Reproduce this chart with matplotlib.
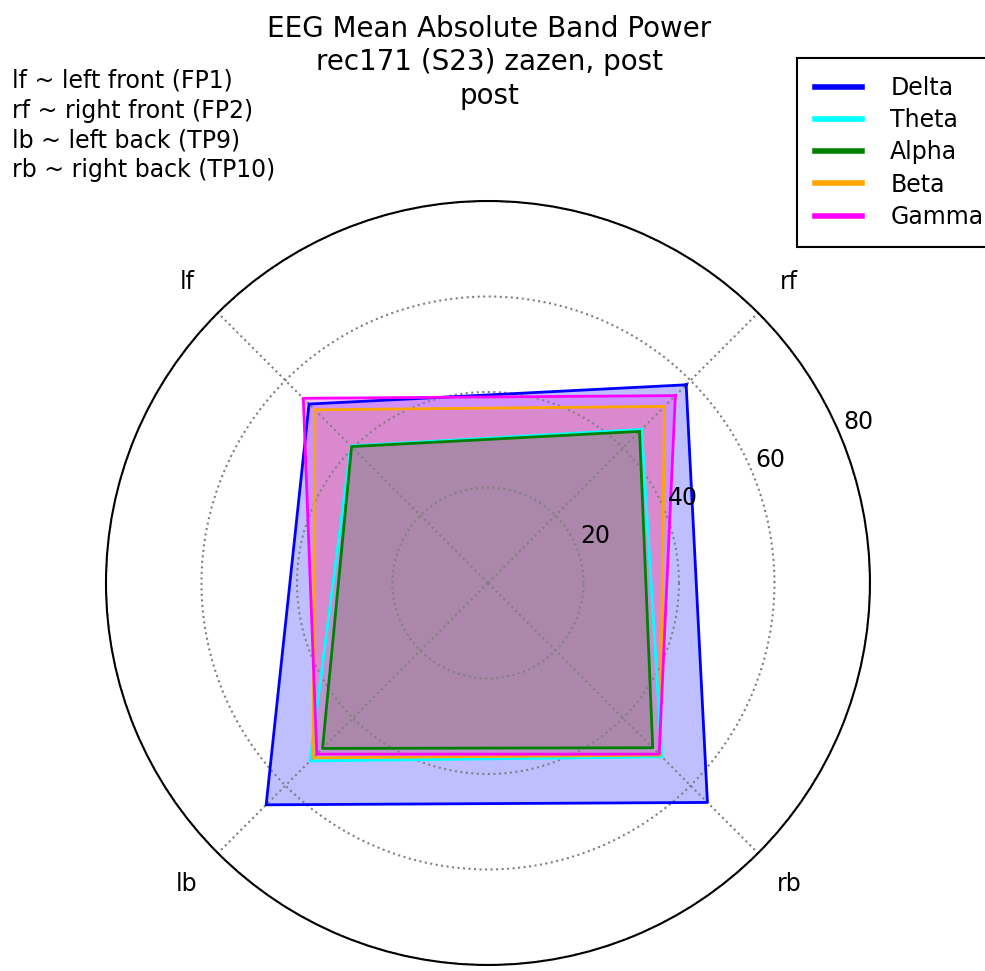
import numpy as np
import matplotlib
matplotlib.use('Agg')
import matplotlib.pyplot as plt

# channels and band values (mean absolute band power)
channels = ['rf', 'lf', 'lb', 'rb']
bands = ['Delta', 'Theta', 'Alpha', 'Beta', 'Gamma']
colors = ['blue', 'cyan', 'green', 'orange', 'magenta']

delta = [58.7, 53.0, 65.7, 65.0]
theta = [45.5, 40.6, 52.7, 51.5]
alpha = [44.9, 40.4, 49.0, 48.8]
beta = [52.3, 51.3, 51.8, 51.0]
gamma = [55.5, 54.7, 50.7, 50.7]

r_ticks = [20, 40, 60, 80]

plt.rcParams['font.family'] = ['DejaVu Sans']

fig = plt.figure(figsize=(9.85, 9.71), dpi=100)
ax = fig.add_axes([0.1076, 0.0062, 0.7756, 0.7868], polar=True)

angles = np.deg2rad([45, 135, 225, 315])
closed = np.concatenate([angles, angles[:1]])

for name, vals, col in zip(bands, [delta, theta, alpha, beta, gamma], colors):
    v = np.concatenate([vals, vals[:1]])
    ax.plot(closed, v, color=col, linewidth=2, label=name)
    ax.fill(closed, v, color=col, alpha=0.25)

ax.set_ylim(0, 80)
ax.set_xticks(angles)
ax.set_xticklabels(channels, fontsize=17)
ax.tick_params(axis='x', pad=21)
ax.set_yticks(r_ticks)
ax.set_yticklabels([])
for t in r_ticks:
    ax.text(np.deg2rad(23.5), t + 4.5, str(t), fontsize=17,
            ha='center', va='center')
ax.set_rlabel_position(23.5)
ax.grid(True, color='gray', linestyle=':', linewidth=1.5)
ax.spines['polar'].set_linewidth(1.5)

fig.text(0.497, 0.985, 'EEG Mean Absolute Band Power\nrec171 (S23) zazen, post\npost',
         ha='center', va='top', fontsize=20, linespacing=1.25)
fig.text(0.012, 0.929, 'lf ~ left front (FP1)\nrf ~ right front (FP2)\nlb ~ left back (TP9)\nrb ~ right back (TP10)',
         ha='left', va='top', fontsize=17, linespacing=1.3)

leg = fig.legend(loc='upper left', bbox_to_anchor=(0.809, 0.94), fontsize=17,
                 fancybox=False, edgecolor='black', framealpha=1,
                 borderaxespad=0, handlelength=2.0, handletextpad=1.2,
                 borderpad=0.75, labelspacing=0.35)
leg.get_frame().set_linewidth(1.5)
for h in leg.legend_handles:
    h.set_linewidth(4)

fig.savefig('out.png', dpi=100)
